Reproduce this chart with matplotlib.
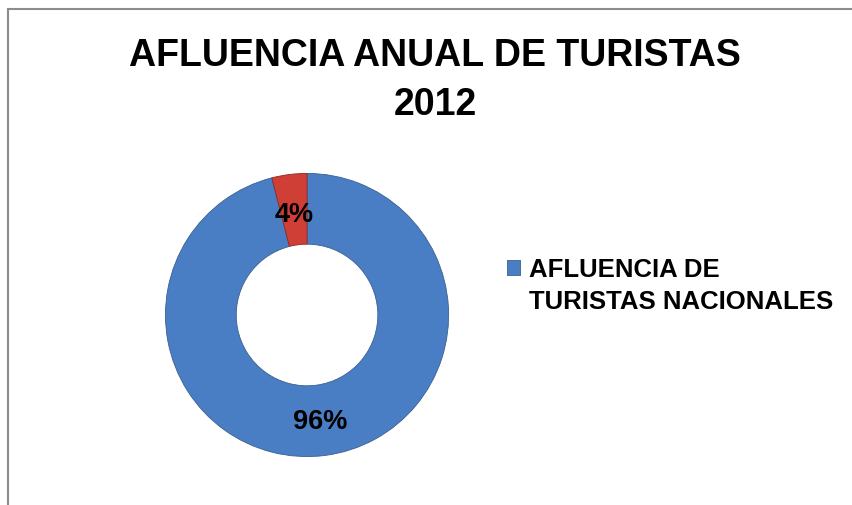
import matplotlib.pyplot as plt
from matplotlib.patches import Rectangle

plt.rcParams['font.family'] = ['Liberation Sans', 'DejaVu Sans']

# Data
categorias = ['AFLUENCIA DE TURISTAS NACIONALES', 'AFLUENCIA DE TURISTAS EXTRANJEROS']
valores = [96, 4]
colores = ['#4A7EC4', '#D03F36']

fig = plt.figure(figsize=(8.53, 5.06), dpi=100)

# Marco gris del grafico
fig.patches.append(Rectangle((8 / 853, -0.05), 1.1, (506 - 10) / 506 + 0.05,
                             transform=fig.transFigure, fill=False,
                             edgecolor='#8c8c8c', linewidth=1.5))

fig.text(0.51, 0.889, 'AFLUENCIA ANUAL DE TURISTAS', ha='center', va='center',
         fontsize=27, fontweight='bold')
fig.text(0.51, 0.793, '2012', ha='center', va='center',
         fontsize=27, fontweight='bold')

ax = fig.add_axes([0.1923, 0.0929, 0.3353, 0.5652])
wedges, texts, autotexts = ax.pie(
    valores, colors=colores, startangle=90, counterclock=False,
    radius=1.0, autopct='%1.0f%%', pctdistance=0.72,
    wedgeprops=dict(width=0.5, edgecolor='#3a5f8f', linewidth=0.6),
    textprops=dict(fontsize=19.5, fontweight='bold', color='black'))
wedges[1].set_edgecolor('#8a2a24')
# la etiqueta del 96% queda un poco mas afuera en el original
x, y = autotexts[0].get_position()
autotexts[0].set_position((x * 1.05, y * 1.05))
ax.set_xlim(-1.01, 1.01)
ax.set_ylim(-1.01, 1.01)
ax.set_aspect('equal')

# Leyenda (solo se ve la primera serie); el cuadro va con la primera linea
linea1, linea2 = 'AFLUENCIA DE', 'TURISTAS NACIONALES'
vacio = Rectangle((0, 0), 1, 1, fill=False, edgecolor='none')
fig.legend([wedges[0], vacio], [linea1, linea2], loc='upper left',
           bbox_to_anchor=(0.567, 0.535), frameon=False,
           prop=dict(size=18.5, weight='bold'), handlelength=0.5,
           handleheight=0.5, handletextpad=0.35, labelspacing=0.3)

fig.savefig('out.png', dpi=100)
